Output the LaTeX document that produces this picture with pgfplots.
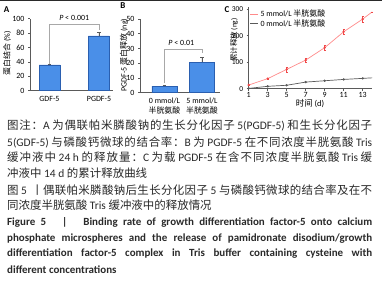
\documentclass[border=0pt]{standalone}
\usepackage{pgfplots}
\pgfplotsset{compat=1.18}
\usepackage{fontspec}
\setmainfont{Carlito}
\newfontfamily\cjk{Noto Sans CJK SC}
\newXeTeXintercharclass\cjkclass
\count255="4E00
\loop \XeTeXcharclass\count255=\cjkclass \advance\count255 by 1 \ifnum\count255<"A000 \repeat
\count255="3000
\loop \XeTeXcharclass\count255=\cjkclass \advance\count255 by 1 \ifnum\count255<"3040 \repeat
\count255="FF00
\loop \XeTeXcharclass\count255=\cjkclass \advance\count255 by 1 \ifnum\count255<"FF60 \repeat
\XeTeXinterchartokenstate=1
\XeTeXinterchartoks\cjkclass\cjkclass = {\hskip 0pt plus 1fil\relax}
\definecolor{barblue}{HTML}{4A8FE8}
\definecolor{baredge}{HTML}{2A5FB0}
\definecolor{axgray}{HTML}{5A5A5A}
\definecolor{brgray}{HTML}{A8A8A8}
\definecolor{redl}{HTML}{FF8A8A}
\definecolor{rede}{HTML}{F04848}
\definecolor{capt}{HTML}{2A2A2A}
\pgfplotsset{panel/.style={scale only axis, axis lines*=left,
  axis line style={axgray, line width=0.6pt},
  tick style={axgray, line width=0.5pt}, tick align=outside, major tick length=2bp,
  ticklabel style={font=\fontsize{8}{10}\selectfont, text=black},
  /pgf/number format/assume math mode=true, clip=false}}
\newcommand{\cl}[1]{\makebox[365bp][s]{#1}}
\begin{document}
\begin{tikzpicture}[x=1bp,y=1bp]
\useasboundingbox (0,0) rectangle (382,281);
\fill[white] (0,0) rectangle (382,281);
\draw[capt, line width=1bp] (0,280.5) -- (382,280.5);
% Panel A
\begin{axis}[panel, at={(30bp,190.3bp)}, anchor=south west, width=83bp, height=72bp,
  xmin=-0.394, xmax=1.283, ymin=0, ymax=100, ytick={0,20,...,100},
  xtick={0,1}, xticklabels={GDF-5,PGDF-5}, xtick style={draw=none},
  ybar, bar width=21bp]
\addplot[fill=barblue, draw=baredge, line width=0.5pt,
  error bars/.cd, y dir=plus, y explicit, error bar style={axgray, line width=0.7pt}]
  coordinates {(0,36) +- (0,1) (1,76) +- (0,5)};
\draw[brgray, line width=0.9pt] (axis cs:0,37.5) -- (axis cs:0,92) -- (axis cs:1,92) -- (axis cs:1,84.5);
\node[font=\fontsize{8}{10}\selectfont] at (axis cs:0.5,100.5) {\textit{P} < 0.001};
\end{axis}
% Panel B
\begin{axis}[panel, at={(140bp,188.3bp)}, anchor=south west, width=80bp, height=73.7bp,
  xmin=-0.653, xmax=1.48, ymin=0, ymax=50, ytick={0,10,...,50},
  xtick={0,1}, xticklabels={{0 mmol/L\\{\cjk 半胱氨酸}},{5 mmol/L\\{\cjk 半胱氨酸}}},
  xticklabel style={align=center}, xtick style={draw=none},
  ybar, bar width=25bp]
\addplot[fill=barblue, draw=baredge, line width=0.5pt,
  error bars/.cd, y dir=plus, y explicit, error bar style={axgray, line width=0.7pt}]
  coordinates {(0,4.5) +- (0,0.7) (1,20.8) +- (0,3.2)};
\draw[brgray, line width=0.9pt] (axis cs:0,6.3) -- (axis cs:0,29.4) -- (axis cs:1,29.4) -- (axis cs:1,26.7);
\node[font=\fontsize{8}{10}\selectfont] at (axis cs:0.45,33.6) {\textit{P} < 0.01};
\end{axis}
% Panel C
\begin{axis}[panel, at={(248.7bp,192.3bp)}, anchor=south west, width=123.5bp, height=82.1bp,
  xmin=1, xmax=14, ymin=0, ymax=310, xtick={1,3,...,13}, ytick={0,100,200,300},
  xticklabel style={yshift=2bp}, yticklabel style={font=\fontsize{7.5}{9}\selectfont},
  legend style={at={(0.0,1.0)}, anchor=north west, draw=none, fill=none,
    font=\fontsize{8}{9}\selectfont, row sep=-2.5bp, inner sep=1bp},
  legend cell align=left,
  legend image code/.code={\draw[#1] (0bp,0bp) -- (8bp,0bp);}]
\addplot[redl, line width=0.7pt, mark=*, mark size=0.8bp, mark options={rede},
  mark indices={1,2,3,4,5,6,7},
  error bars/.cd, y dir=both, y explicit, error bar style={rede, line width=0.5pt}]
  coordinates {(1,14) +- (0,0) (3,38) +- (0,3) (5,73) +- (0,10) (7,108) +- (0,8)
  (9,155) +- (0,8) (11,215) +- (0,9) (13,263) +- (0,12) (14,290) +- (0,0)};
\addlegendentry{5 mmol/L {\cjk 半胱氨酸}}
\addplot[axgray, line width=0.7pt, mark=*, mark size=0.8bp, mark indices={1,2,3,4,5,6,7}]
  coordinates {(1,1) (3,9) (5,13) (7,25) (9,30) (11,35) (13,39) (14,41)};
\addlegendentry{0 mmol/L {\cjk 半胱氨酸}}
\end{axis}
% labels
\node[font=\bfseries\fontsize{9}{10}\selectfont] at (6.7,271.7) {A};
\node[font=\bfseries\fontsize{9}{10}\selectfont] at (123,275) {B};
\node[font=\bfseries\fontsize{9}{10}\selectfont] at (227,271.7) {C};
\node[rotate=90, font=\fontsize{8}{10}\selectfont] at (7,228) {{\cjk 蛋白结合} (\%)};
\node[rotate=90, font=\fontsize{8}{10}\selectfont] at (124,226) {PGDF-5 {\cjk 蛋白释放} (ng)};
\node[rotate=90, font=\fontsize{7.5}{9}\selectfont] at (234,241) {{\cjk 累计释放} (ng)};
\node[font=\fontsize{8.5}{10}\selectfont] at (310,177) {{\cjk 时间} (d)};
% caption
\begin{scope}[every node/.style={anchor=base west, inner sep=0pt, text=capt, font=\fontsize{11.5}{13}\selectfont}]
\node at (7,{281-125-4.3}) {\cl{{\cjk 图注：}A {\cjk 为偶联帕米膦酸钠的生长分化因子} 5(PGDF-5) {\cjk 和生长分化因子}}};
\node at (7,{281-141.7-4.3}) {\cl{5(GDF-5) {\cjk 与磷酸钙微球的结合率：}B {\cjk 为} PGDF-5 {\cjk 在不同浓度半胱氨酸} Tris}};
\node at (7,{281-156.7-4.3}) {\cl{{\cjk 缓冲液中} 24 h {\cjk 的释放量：}C {\cjk 为载} PGDF-5 {\cjk 在含不同浓度半胱氨酸} Tris {\cjk 缓}}};
\node at (7,{281-173.3-4.3}) {{\cjk 冲液中} 14 d {\cjk 的累计释放曲线}};
\node at (7,{281-190-4.3}) {\cl{{\cjk 图} 5 \,{\cjk 丨}{\cjk 偶联帕米膦酸钠后生长分化因子} 5 {\cjk 与磷酸钙微球的结合率及在不}}};
\node at (7,{281-205-4.3}) {{\cjk 同浓度半胱氨酸} Tris {\cjk 缓冲液中的释放情况}};
\end{scope}
\begin{scope}[every node/.style={anchor=base west, inner sep=0pt, text=capt, font=\bfseries\fontsize{11}{13}\selectfont}]
\node at (7,{281-221.7-4}) {\cl{Figure 5 \ \ | \ \ Binding rate of growth differentiation factor-5 onto calcium}};
\node at (7,{281-237.3-4}) {\cl{phosphate microspheres and the release of pamidronate disodium/growth}};
\node at (7,{281-252.7-4}) {\cl{differentiation factor-5 complex in Tris buffer containing cysteine with}};
\node at (7,{281-269.3-4}) {different concentrations};
\end{scope}
\end{tikzpicture}
\end{document}
